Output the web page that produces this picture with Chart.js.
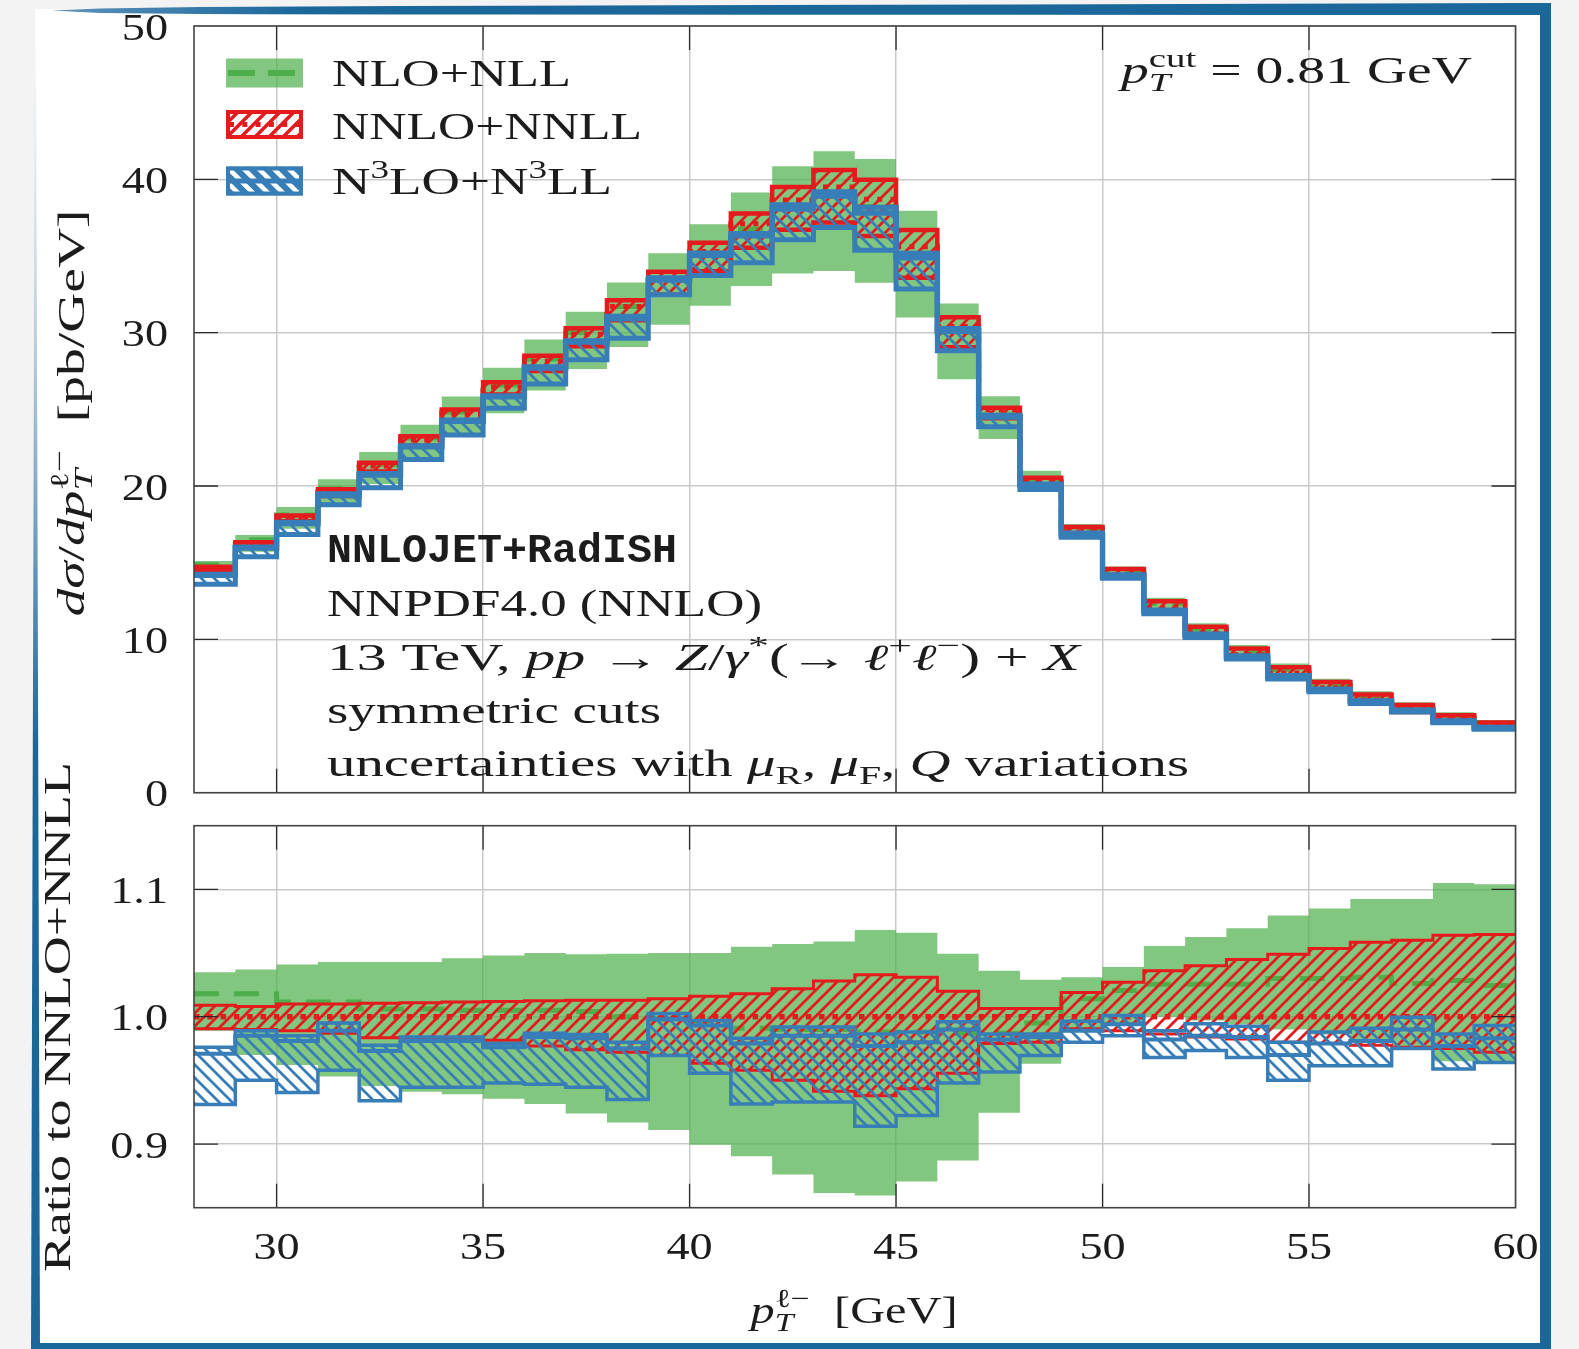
<!DOCTYPE html>
<html><head><meta charset="utf-8">
<script src="https://cdn.jsdelivr.net/npm/chart.js"></script>
<style>
html,body{margin:0;padding:0;}
body{width:1579px;height:1349px;position:relative;overflow:hidden;background:#f3f3f3;}
.abs{position:absolute;}
#card{left:35px;top:9px;width:1505px;height:1334px;background:#fff;}
#fr{left:1540px;top:3px;width:11px;height:1346px;background:#1b679a;}
#fb{left:31px;top:1343px;width:1520px;height:6px;background:#1b679a;}
#fl{left:31px;top:15px;width:9px;height:1334px;background:linear-gradient(to bottom, rgba(27,103,154,0) 0%, rgba(27,103,154,0.3) 25%, rgba(27,103,154,1) 55%, #1b679a 100%);clip-path:polygon(4px 0, 5px 0, 9px 100%, 0 100%);}
#ft{left:0;top:0;width:1551px;height:16px;background:linear-gradient(to right,#6a9cc2 0,#1b679a 300px,#1b679a 100%);clip-path:polygon(52px 10.5px,100px 8.5px,200px 7px,400px 6px,1551px 3px,1551px 15px,400px 14.5px,200px 14px,100px 13px);}
canvas{position:absolute;left:0;}
#c1{top:0px;}
#c2{top:740px;}
</style></head><body>
<div id="card" class="abs"></div>
<div id="fl" class="abs"></div>
<div id="ft" class="abs"></div>
<div id="fr" class="abs"></div>
<div id="fb" class="abs"></div>
<canvas id="c1" width="1579" height="820"></canvas>
<canvas id="c2" width="1579" height="609"></canvas>
<script>
// ---------------- DATA ----------------
const binEdges = [28,29,30,31,32,33,34,35,36,37,38,39,40,41,42,43,44,45,46,47,48,49,50,51,52,53,54,55,56,57,58,59,60];
// NNLO+NNLL central value per bin [pb/GeV]
const nnloCentral = [14.6,16.2,17.9,19.6,21.3,23.0,24.7,26.45,28.15,29.9,31.7,33.5,35.3,37.1,38.65,39.5,38.7,35.6,30.4,24.95,20.4,17.0,14.2,12.05,10.4,9.0,7.8,6.85,6.05,5.4,4.75,4.3];
// Ratios to NNLO+NNLL central
const nloRatioLo  = [0.989,0.970,0.962,0.953,0.9455,0.941,0.939,0.9355,0.9315,0.924,0.917,0.911,0.8995,0.8905,0.876,0.8615,0.8595,0.8705,0.887,0.9245,0.963,0.990,0.994,1.000,0.997,0.994,0.990,0.986,0.982,0.975,0.965,0.963];
const nloRatioCen = [1.018,1.018,1.0115,1.0115,1.006,1.006,1.005,1.005,1.005,1.004,1.000,0.998,0.995,0.991,0.990,0.990,0.988,0.988,0.987,0.987,0.995,1.014,1.0205,1.0255,1.0255,1.0255,1.030,1.030,1.031,1.026,1.0285,1.0245];
const nloRatioHi  = [1.035,1.037,1.041,1.043,1.043,1.043,1.046,1.048,1.050,1.049,1.0495,1.050,1.050,1.055,1.057,1.059,1.068,1.066,1.0495,1.036,1.029,1.031,1.039,1.0555,1.0625,1.0695,1.0795,1.085,1.0925,1.0925,1.105,1.104];
const nnloRatioLo  = [0.9905,0.990,0.989,0.987,0.9835,0.9835,0.982,0.9815,0.977,0.974,0.972,0.9695,0.9635,0.958,0.950,0.9415,0.938,0.9435,0.9555,0.979,0.980,0.9905,0.989,0.9865,0.984,0.9825,0.980,0.979,0.9775,0.976,0.975,0.972];
const nnloRatioCen = [1,1,1,1,1,1,1,1,1,1,1,1,1,1,1,1,1,1,1,1,1,1,1,1,1,1,1,1,1,1,1,1];
const nnloRatioHi  = [1.009,1.008,1.010,1.010,1.0105,1.011,1.0115,1.012,1.0125,1.013,1.013,1.014,1.016,1.018,1.022,1.028,1.033,1.031,1.020,1.0065,1.0065,1.019,1.027,1.036,1.040,1.045,1.049,1.0535,1.0585,1.060,1.064,1.0645];
const n3loRatioLo  = [0.931,0.950,0.9405,0.958,0.934,0.9445,0.9445,0.948,0.947,0.9445,0.935,0.9695,0.9555,0.9315,0.933,0.933,0.914,0.9225,0.948,0.9565,0.9695,0.980,0.985,0.968,0.9735,0.968,0.950,0.9615,0.9615,0.975,0.959,0.964];
const n3loRatioCen = [0.971,0.985,0.981,0.989,0.973,0.981,0.981,0.976,0.984,0.983,0.975,0.998,0.993,0.979,0.985,0.985,0.977,0.980,0.990,0.982,0.984,0.989,0.994,0.982,0.985,0.984,0.970,0.979,0.981,0.990,0.977,0.983];
const n3loRatioHi  = [0.976,0.989,0.985,0.995,0.9775,0.984,0.984,0.979,0.987,0.986,0.980,1.0025,0.997,0.983,0.992,0.992,0.9865,0.988,0.996,0.9865,0.9865,0.9965,1.001,0.989,0.9945,0.9925,0.980,0.988,0.991,0.9995,0.9865,0.993];
// ticks
const yTicksTop = [0,10,20,30,40,50];
const yTicksRatio = [0.9,1.0,1.1];
const yTickLabelsRatio = ['0.9','1.0','1.1'];
const xTicks = [30,35,40,45,50,55,60];

// ---------------- STYLE ----------------
const GREEN='#4daf4a', GREEN_FILL='rgba(77,175,74,0.7)', RED='#e41a1c', BLUE='#377eb8';
const TXT='#1c1c1c';
const SERIF="'Liberation Serif','DejaVu Serif',serif";
const MONO="'Liberation Mono','DejaVu Sans Mono',monospace";

function hatch(color, dir, s, lw, bg){
  const c=document.createElement('canvas'); c.width=s; c.height=s;
  const g=c.getContext('2d');
  if(bg){g.fillStyle=bg; g.fillRect(0,0,s,s);}
  g.strokeStyle=color; g.lineWidth=lw; g.lineCap='square';
  g.beginPath();
  if(dir==='/'){
    for(const k of [0,1,2]){ g.moveTo(-1,k*s+1); g.lineTo(s+1,k*s-s-1); }
  } else {
    for(const k of [-1,0,1]){ g.moveTo(-1,k*s-1); g.lineTo(s+1,k*s+s+1); }
  }
  g.stroke();
  return g.createPattern(c,'repeat');
}

// step curve: value of bin i held from binEdges[i] to binEdges[i+1]
function steps(vals){ return binEdges.map((x,i)=>({x:x, y:vals[Math.min(i, vals.length-1)]})); }

function buildDatasets(top){
  const conv = top ? (a=>a.map((r,i)=>r*nnloCentral[i])) : (a=>a);
  const w = top ? {r:4.5, b:5, bc:5.5, d:5} : {r:3, b:3.5, bc:4, d:5.5};
  const ds=[];
  const add=d=>{ds.push(Object.assign({pointRadius:0, stepped:'before', fill:false, borderWidth:1}, d)); return ds.length-1;};
  const none='rgba(0,0,0,0)';
  const gl=add({data:steps(conv(nloRatioLo)), borderColor:none, order:100});
  add({data:steps(conv(nloRatioHi)), borderColor:none, fill:{target:gl}, backgroundColor:GREEN_FILL, order:101});
  add({data:steps(conv(nloRatioCen)), borderColor:GREEN, borderWidth:5, borderDash:[25,15], order:95});
  const rl=add({data:steps(conv(nnloRatioLo)), borderColor:RED, borderWidth:w.r, order:90});
  add({data:steps(conv(nnloRatioHi)), borderColor:RED, borderWidth:w.r, fill:{target:rl}, backgroundColor:hatch(RED,'/',13,2.8), order:91});
  add({data:steps(conv(nnloRatioCen)), borderColor:RED, borderWidth:w.d, borderDash:[w.d,13.3-w.d], order:89});
  const bl=add({data:steps(conv(n3loRatioLo)), borderColor:BLUE, borderWidth:w.b, order:80});
  add({data:steps(conv(n3loRatioHi)), borderColor:BLUE, borderWidth:w.b, fill:{target:bl}, backgroundColor:hatch(BLUE,'\\',13,2.8), order:81});
  add({data:steps(conv(n3loRatioCen)), borderColor:BLUE, borderWidth:w.bc, order:79});
  return ds;
}

// ---------------- TEXT ----------------
function fontStr(f,size){
  if(f==='i') return `italic ${size}px ${SERIF}`;
  if(f==='m') return `bold ${size}px ${MONO}`;
  return `${size}px ${SERIF}`;
}
function measureRich(ctx,segs,size){
  let w=0;
  for(const s of segs){
    ctx.font=fontStr(s.f||'r',size); w+=ctx.measureText(s.t).width;
    if(s.sup||s.sub){ const ss=size*0.7; let e=0;
      if(s.sup){ctx.font=fontStr(s.supf||'r',ss); e=Math.max(e,ctx.measureText(s.sup).width);}
      if(s.sub){ctx.font=fontStr(s.subf||'r',ss); e=Math.max(e,ctx.measureText(s.sub).width);}
      w+=e; }
    w+=s.gap||0;
  }
  return w;
}
function drawRich(ctx,segs,o){
  const size=o.size||37;
  const nat=measureRich(ctx,segs,size);
  const sx=o.width? o.width/nat : (o.sx||1);
  const W=nat*sx;
  ctx.save();
  ctx.fillStyle=o.color||TXT; ctx.textBaseline='alphabetic'; ctx.textAlign='left';
  ctx.translate(o.x,o.y);
  if(o.rot) ctx.rotate(-Math.PI/2);
  ctx.translate(o.align==='center'?-W/2:(o.align==='right'?-W:0),0);
  ctx.scale(sx,1);
  let cx=0;
  for(const s of segs){
    ctx.font=fontStr(s.f||'r',size); ctx.fillText(s.t,cx,0); cx+=ctx.measureText(s.t).width;
    if(s.sup||s.sub){ const ss=size*0.7; let e=0;
      if(s.sup){ctx.font=fontStr(s.supf||'r',ss); ctx.fillText(s.sup,cx,-size*0.42); e=Math.max(e,ctx.measureText(s.sup).width);}
      if(s.sub){ctx.font=fontStr(s.subf||'r',ss); ctx.fillText(s.sub,cx,size*0.22); e=Math.max(e,ctx.measureText(s.sub).width);}
      cx+=e; }
    cx+=s.gap||0;
  }
  ctx.restore();
}

function drawFrame(chart, yTicks){
  const ctx=chart.ctx, a=chart.chartArea, xs=chart.scales.x, ys=chart.scales.y;
  ctx.save();
  ctx.strokeStyle='#2a2a2a'; ctx.lineWidth=1.3;
  ctx.beginPath();
  for(const v of xTicks){ if(v<=xs.min||v>=xs.max) continue; const px=xs.getPixelForValue(v);
    ctx.moveTo(px,a.top); ctx.lineTo(px,a.top+24); ctx.moveTo(px,a.bottom); ctx.lineTo(px,a.bottom-24); }
  for(const v of yTicks){ if(v<=ys.min||v>=ys.max) continue; const py=ys.getPixelForValue(v);
    ctx.moveTo(a.left,py); ctx.lineTo(a.left+24,py); ctx.moveTo(a.right,py); ctx.lineTo(a.right-24,py); }
  ctx.stroke();
  ctx.strokeStyle='#444'; ctx.lineWidth=1.6;
  ctx.strokeRect(a.left,a.top,a.right-a.left,a.bottom-a.top);
  ctx.restore();
}

function drawLegend(ctx){
  const x0=226,x1=303,w=x1-x0,h=29,tops=[58.5,110,166.5];
  ctx.save();
  // NLO
  ctx.fillStyle=GREEN_FILL; ctx.fillRect(x0,tops[0],w,h);
  ctx.strokeStyle=GREEN; ctx.lineWidth=6; ctx.setLineDash([27,13]);
  ctx.beginPath(); ctx.moveTo(x0+2,tops[0]+h/2); ctx.lineTo(x1,tops[0]+h/2); ctx.stroke();
  // NNLO
  ctx.setLineDash([]);
  ctx.save(); ctx.beginPath(); ctx.rect(x0,tops[1],w,h); ctx.clip();
  ctx.fillStyle=hatch(RED,'/',14,3.5); ctx.fillRect(x0,tops[1],w,h); ctx.restore();
  ctx.strokeStyle=RED; ctx.lineWidth=5; ctx.setLineDash([5,8.3]);
  ctx.beginPath(); ctx.moveTo(x0+3,tops[1]+h/2); ctx.lineTo(x1,tops[1]+h/2); ctx.stroke();
  ctx.setLineDash([]); ctx.lineWidth=4; ctx.strokeRect(x0+2,tops[1]+2,w-4,h-4);
  // N3LO
  ctx.fillStyle=BLUE; ctx.fillRect(x0,tops[2],w,h);
  ctx.save(); ctx.beginPath(); ctx.rect(x0,tops[2],w,h); ctx.clip();
  ctx.fillStyle=hatch('#ffffff','\\',15,4.5); ctx.fillRect(x0,tops[2],w,h); ctx.restore();
  ctx.strokeStyle=BLUE; ctx.lineWidth=5;
  ctx.beginPath(); ctx.moveTo(x0,tops[2]+h/2); ctx.lineTo(x1,tops[2]+h/2); ctx.stroke();
  ctx.lineWidth=4; ctx.strokeRect(x0+2,tops[2]+2,w-4,h-4);
  ctx.restore();
  drawRich(ctx,[{t:'NLO+NLL'}],{x:332,y:86,width:239});
  drawRich(ctx,[{t:'NNLO+NNLL'}],{x:332,y:138.5,width:310});
  drawRich(ctx,[{t:'N',sup:'3'},{t:'LO+N',sup:'3'},{t:'LL'}],{x:332,y:193.5,width:280});
}

const topPlugin={id:'topDeco', afterDraw(chart){
  const ctx=chart.ctx, ys=chart.scales.y;
  drawFrame(chart, yTicksTop);
  for(const v of yTicksTop){ drawRich(ctx,[{t:String(v)}],{x:168,y:ys.getPixelForValue(v)+13.5,align:'right',sx:1.25}); }
  drawLegend(ctx);
  drawRich(ctx,[{t:'p',f:'i',sup:'cut',sub:'T',subf:'i'},{t:' = 0.81 GeV'}],{x:1121,y:82.5,width:351});
  drawRich(ctx,[{t:'NNLOJET+RadISH',f:'m'}],{x:327,y:562,size:40,width:350});
  drawRich(ctx,[{t:'NNPDF4.0 (NNLO)'}],{x:327,y:616,width:435});
  drawRich(ctx,[{t:'13 TeV, '},{t:'pp',f:'i'},{t:' \u2192 '},{t:'Z',f:'i'},{t:'/'},{t:'\u03b3',f:'i',sup:'*'},{t:'(\u2192 '},{t:'\u2113',f:'i',sup:'+'},{t:'\u2113',f:'i',sup:'\u2212'},{t:') + '},{t:'X',f:'i'}],{x:327,y:669.5,width:753});
  drawRich(ctx,[{t:'symmetric cuts'}],{x:327,y:723,width:334});
  drawRich(ctx,[{t:'uncertainties with '},{t:'\u03bc',f:'i',sub:'R'},{t:', '},{t:'\u03bc',f:'i',sub:'F'},{t:', '},{t:'Q',f:'i'},{t:' variations'}],{x:327,y:776,width:862});
  drawRich(ctx,[{t:'d\u03c3',f:'i'},{t:'/'},{t:'dp',f:'i',sup:'\u2113\u2212',sub:'T',subf:'i'},{t:'  [pb/GeV]'}],{x:84,y:413,rot:true,align:'center',width:407});
}};

const ratioPlugin={id:'ratioDeco', afterDraw(chart){
  const ctx=chart.ctx, ys=chart.scales.y, xs=chart.scales.x;
  drawFrame(chart, yTicksRatio);
  yTicksRatio.forEach((v,i)=>drawRich(ctx,[{t:yTickLabelsRatio[i]}],{x:168,y:ys.getPixelForValue(v)+13.5,align:'right',sx:1.25}));
  for(const v of xTicks){ drawRich(ctx,[{t:String(v)}],{x:xs.getPixelForValue(v),y:1259-740,align:'center',sx:1.25}); }
  drawRich(ctx,[{t:'p',f:'i',sup:'\u2113\u2212',sub:'T',subf:'i'},{t:'  [GeV]'}],{x:854,y:1323-740,align:'center',width:207});
  drawRich(ctx,[{t:'Ratio to NNLO+NNLL'}],{x:70,y:1017-740,rot:true,align:'center',width:510});
}};

function makeChart(id, top){
  const yT = top? yTicksTop : yTicksRatio;
  return new Chart(document.getElementById(id),{
    type:'line',
    data:{datasets:buildDatasets(top)},
    options:{
      responsive:false, animation:false, devicePixelRatio:1, events:[],
      layout:{padding: top? {left:0,right:63.5,top:26,bottom:27.3} : {left:0,right:63.5,top:85.7,bottom:141.3}},
      plugins:{legend:{display:false},tooltip:{enabled:false}},
      elements:{point:{radius:0}, line:{tension:0, borderCapStyle:'butt', borderJoinStyle:'miter'}},
      scales:{
        x:{type:'linear',min:28,max:60,
           afterBuildTicks:s=>{s.ticks=xTicks.map(v=>({value:v}));},
           afterFit:s=>{s.height=0;},
           ticks:{display:false}, border:{display:false},
           grid:{color:'#c9c9c9',lineWidth:1.5,drawTicks:false}},
        y:{type:'linear',min: top?0:0.85, max: top?50:1.15,
           afterBuildTicks:s=>{s.ticks=yT.map(v=>({value:v}));},
           afterFit:s=>{s.width=194;},
           ticks:{display:false}, border:{display:false},
           grid:{color:'#c9c9c9',lineWidth:1.5,drawTicks:false}}
      }
    },
    plugins:[top?topPlugin:ratioPlugin]
  });
}
makeChart('c1',true);
makeChart('c2',false);
</script>
</body></html>
